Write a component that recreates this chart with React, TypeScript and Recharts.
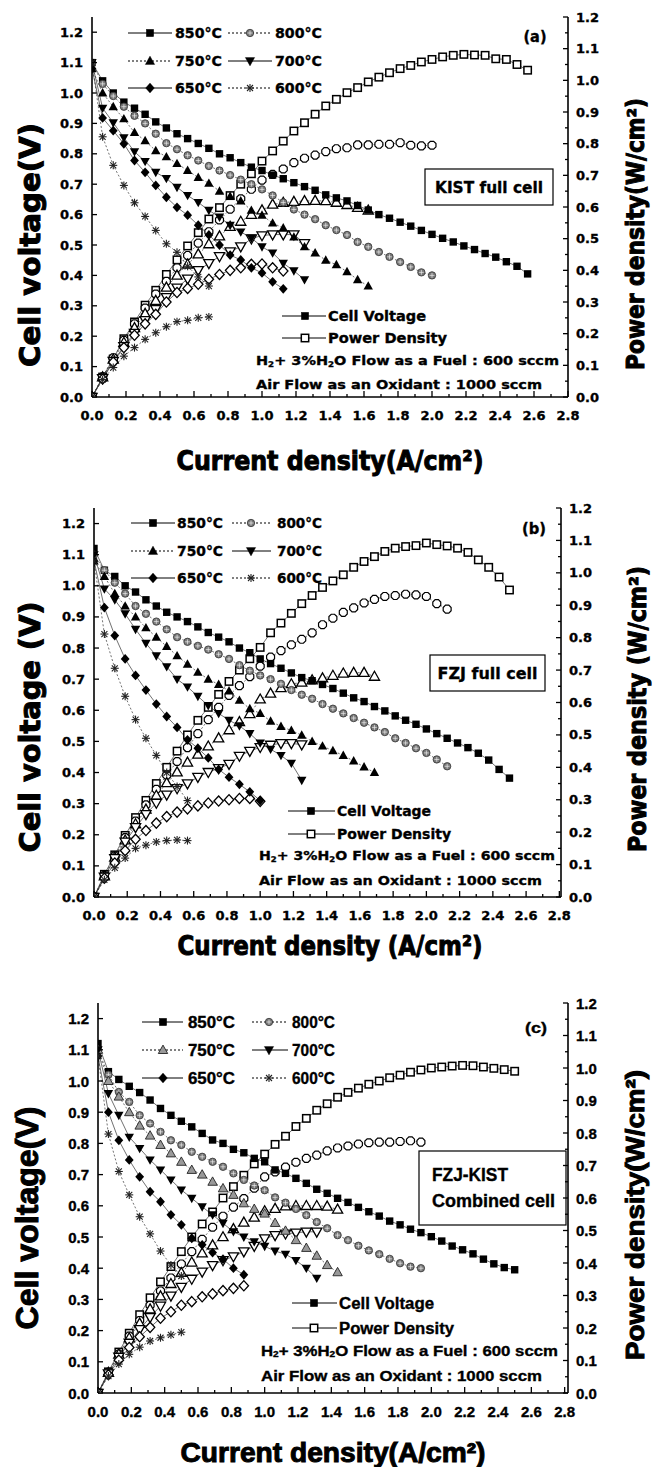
import React from 'react';
import { ComposedChart, Line, XAxis, YAxis } from 'recharts';

// ---------- categories / ticks ----------
const CURRENT = [0, 0.0625, 0.125, 0.1875, 0.25, 0.3125, 0.375, 0.4375, 0.5, 0.5625, 0.625, 0.6875, 0.75, 0.8125, 0.875, 0.9375, 1.0, 1.0625, 1.125, 1.1875, 1.25, 1.3125, 1.375, 1.4375, 1.5, 1.5625, 1.625, 1.6875, 1.75, 1.8125, 1.875, 1.9375, 2.0, 2.0625, 2.125, 2.1875, 2.25, 2.3125, 2.375, 2.4375, 2.5, 2.5625];
const X_TICKS = [0, 0.1, 0.2, 0.3, 0.4, 0.5, 0.6, 0.7, 0.8, 0.9, 1.0, 1.1, 1.2, 1.3, 1.4, 1.5, 1.6, 1.7, 1.8, 1.9, 2.0, 2.1, 2.2, 2.3, 2.4, 2.5, 2.6, 2.7, 2.8];
const V_TICKS = [0, 0.1, 0.2, 0.3, 0.4, 0.5, 0.6, 0.7, 0.8, 0.9, 1.0, 1.1, 1.2];
const P_TICKS = [0, 0.05, 0.1, 0.15, 0.2, 0.25, 0.3, 0.35, 0.4, 0.45, 0.5, 0.55, 0.6, 0.65, 0.7, 0.75, 0.8, 0.85, 0.9, 0.95, 1.0, 1.05, 1.1, 1.15, 1.2];
const TEMPS = ['850', '800', '750', '700', '650', '600'];

// ---------- (a) KIST full cell ----------
const vA850 = [1.10, 1.04, 1.00, 0.97, 0.95, 0.93, 0.905, 0.885, 0.866, 0.85, 0.834, 0.818, 0.80, 0.787, 0.771, 0.756, 0.745, 0.73, 0.718, 0.705, 0.692, 0.68, 0.665, 0.655, 0.645, 0.63, 0.615, 0.60, 0.588, 0.575, 0.562, 0.548, 0.535, 0.522, 0.51, 0.497, 0.485, 0.472, 0.46, 0.445, 0.43, 0.405];
const pA850 = [0, 0.063, 0.12, 0.184, 0.237, 0.29, 0.337, 0.387, 0.433, 0.477, 0.519, 0.562, 0.598, 0.636, 0.672, 0.705, 0.745, 0.777, 0.808, 0.84, 0.866, 0.893, 0.919, 0.94, 0.961, 0.977, 0.995, 1.01, 1.024, 1.037, 1.047, 1.058, 1.066, 1.074, 1.079, 1.082, 1.08, 1.079, 1.068, 1.066, 1.05, 1.032];
const vA800 = [1.10, 1.03, 0.99, 0.955, 0.925, 0.90, 0.866, 0.835, 0.815, 0.795, 0.778, 0.76, 0.745, 0.73, 0.715, 0.70, 0.683, 0.663, 0.64, 0.617, 0.60, 0.585, 0.565, 0.549, 0.533, 0.51, 0.494, 0.477, 0.461, 0.444, 0.428, 0.41, 0.40];
const pA800 = [0, 0.064, 0.124, 0.179, 0.231, 0.281, 0.325, 0.365, 0.408, 0.447, 0.486, 0.522, 0.559, 0.593, 0.626, 0.656, 0.685, 0.703, 0.72, 0.74, 0.754, 0.764, 0.775, 0.784, 0.787, 0.796, 0.796, 0.798, 0.798, 0.803, 0.795, 0.793, 0.795];
const vA750 = [1.08, 1.00, 0.955, 0.915, 0.87, 0.843, 0.81, 0.79, 0.768, 0.745, 0.722, 0.703, 0.677, 0.66, 0.645, 0.614, 0.598, 0.572, 0.556, 0.526, 0.494, 0.474, 0.45, 0.435, 0.412, 0.386, 0.365];
const pA750 = [0, 0.0625, 0.119, 0.172, 0.218, 0.263, 0.304, 0.346, 0.384, 0.419, 0.451, 0.483, 0.508, 0.538, 0.554, 0.576, 0.59, 0.608, 0.614, 0.617, 0.619, 0.62, 0.619, 0.614, 0.607, 0.598, 0.589];
const vA700 = [1.10, 0.95, 0.902, 0.853, 0.807, 0.775, 0.739, 0.719, 0.69, 0.663, 0.64, 0.614, 0.592, 0.565, 0.543, 0.523, 0.494, 0.474, 0.44, 0.415, 0.386];
const pA700 = [0, 0.059, 0.113, 0.16, 0.202, 0.242, 0.277, 0.315, 0.345, 0.373, 0.40, 0.422, 0.444, 0.459, 0.475, 0.50, 0.51, 0.513, 0.513, 0.513, 0.485];
const vA650 = [1.08, 0.918, 0.876, 0.833, 0.778, 0.739, 0.696, 0.657, 0.624, 0.598, 0.565, 0.533, 0.50, 0.467, 0.451, 0.425, 0.408, 0.379, 0.356];
const pA650 = [0, 0.057, 0.11, 0.156, 0.195, 0.231, 0.261, 0.30, 0.33, 0.343, 0.356, 0.372, 0.387, 0.40, 0.408, 0.419, 0.42, 0.408, 0.398];
const vA600 = [1.10, 0.856, 0.762, 0.696, 0.639, 0.594, 0.548, 0.504, 0.476, 0.43, 0.395, 0.365];
const pA600 = [0, 0.055, 0.093, 0.129, 0.156, 0.182, 0.203, 0.222, 0.238, 0.242, 0.25, 0.253];

// ---------- (b) FZJ full cell ----------
const vB850 = [1.12, 1.05, 1.03, 1.0, 0.98, 0.955, 0.935, 0.915, 0.90, 0.885, 0.868, 0.85, 0.835, 0.82, 0.80, 0.785, 0.765, 0.75, 0.735, 0.72, 0.705, 0.695, 0.683, 0.67, 0.655, 0.64, 0.628, 0.612, 0.598, 0.582, 0.568, 0.555, 0.54, 0.525, 0.51, 0.495, 0.48, 0.462, 0.44, 0.41, 0.382];
const pB850 = [0, 0.07, 0.13, 0.19, 0.245, 0.298, 0.35, 0.40, 0.45, 0.50, 0.545, 0.585, 0.625, 0.665, 0.70, 0.735, 0.77, 0.815, 0.845, 0.875, 0.905, 0.93, 0.955, 0.975, 0.994, 1.017, 1.035, 1.05, 1.066, 1.076, 1.081, 1.084, 1.092, 1.087, 1.083, 1.076, 1.063, 1.04, 1.017, 0.987, 0.947];
const vB800 = [1.10, 1.05, 1.01, 0.975, 0.935, 0.91, 0.885, 0.86, 0.835, 0.82, 0.807, 0.795, 0.78, 0.765, 0.745, 0.727, 0.712, 0.70, 0.685, 0.665, 0.65, 0.637, 0.62, 0.605, 0.59, 0.575, 0.56, 0.545, 0.53, 0.51, 0.495, 0.478, 0.463, 0.442, 0.42];
const pB800 = [0, 0.066, 0.126, 0.183, 0.234, 0.284, 0.332, 0.376, 0.418, 0.461, 0.504, 0.547, 0.585, 0.622, 0.652, 0.68, 0.712, 0.74, 0.76, 0.778, 0.795, 0.815, 0.84, 0.86, 0.878, 0.892, 0.907, 0.918, 0.927, 0.93, 0.934, 0.932, 0.927, 0.905, 0.888];
const vB750 = [1.08, 1.03, 0.975, 0.935, 0.90, 0.865, 0.835, 0.805, 0.775, 0.748, 0.722, 0.70, 0.683, 0.662, 0.632, 0.605, 0.59, 0.565, 0.548, 0.535, 0.52, 0.50, 0.485, 0.47, 0.455, 0.437, 0.418, 0.40];
const pB750 = [0, 0.064, 0.122, 0.175, 0.225, 0.27, 0.313, 0.352, 0.385, 0.415, 0.44, 0.465, 0.49, 0.515, 0.54, 0.565, 0.61, 0.628, 0.645, 0.657, 0.662, 0.669, 0.675, 0.683, 0.69, 0.692, 0.692, 0.68];
const vB700 = [1.10, 0.99, 0.955, 0.91, 0.86, 0.815, 0.775, 0.74, 0.70, 0.675, 0.645, 0.615, 0.59, 0.568, 0.55, 0.525, 0.495, 0.475, 0.455, 0.43, 0.375];
const pB700 = [0, 0.062, 0.119, 0.17, 0.215, 0.255, 0.29, 0.315, 0.335, 0.35, 0.37, 0.385, 0.397, 0.41, 0.435, 0.45, 0.462, 0.469, 0.474, 0.474, 0.47];
const vB650 = [1.08, 0.93, 0.84, 0.765, 0.712, 0.665, 0.62, 0.58, 0.545, 0.505, 0.478, 0.447, 0.41, 0.385, 0.362, 0.338, 0.31];
const pB650 = [0, 0.058, 0.105, 0.143, 0.178, 0.205, 0.228, 0.248, 0.262, 0.272, 0.281, 0.29, 0.296, 0.30, 0.304, 0.304, 0.295];
const vB600 = [1.08, 0.845, 0.735, 0.645, 0.57, 0.51, 0.455, 0.40, 0.355, 0.31];
const pB600 = [0, 0.053, 0.09, 0.12, 0.15, 0.16, 0.17, 0.174, 0.176, 0.174];

// ---------- (c) FZJ-KIST combined cell ----------
const vC850 = [1.12, 1.03, 1.005, 0.983, 0.963, 0.939, 0.912, 0.89, 0.871, 0.853, 0.832, 0.811, 0.80, 0.781, 0.77, 0.752, 0.741, 0.715, 0.704, 0.688, 0.672, 0.653, 0.64, 0.624, 0.611, 0.595, 0.581, 0.567, 0.551, 0.539, 0.525, 0.514, 0.501, 0.487, 0.471, 0.459, 0.446, 0.429, 0.414, 0.402, 0.395];
const pC850 = [0, 0.065, 0.126, 0.184, 0.241, 0.293, 0.342, 0.389, 0.435, 0.48, 0.52, 0.557, 0.60, 0.635, 0.67, 0.705, 0.735, 0.765, 0.79, 0.82, 0.845, 0.87, 0.89, 0.91, 0.925, 0.938, 0.95, 0.96, 0.97, 0.978, 0.987, 0.994, 1.0, 1.003, 1.006, 1.008, 1.007, 1.003, 0.999, 0.995, 0.99];
const vC800 = [1.10, 1.02, 0.965, 0.933, 0.89, 0.864, 0.837, 0.81, 0.795, 0.773, 0.757, 0.741, 0.725, 0.704, 0.683, 0.665, 0.65, 0.627, 0.61, 0.59, 0.57, 0.548, 0.528, 0.506, 0.49, 0.472, 0.457, 0.445, 0.43, 0.416, 0.405, 0.40];
const pC800 = [0, 0.064, 0.12, 0.175, 0.223, 0.27, 0.314, 0.354, 0.397, 0.435, 0.473, 0.51, 0.544, 0.572, 0.598, 0.63, 0.665, 0.68, 0.695, 0.71, 0.722, 0.732, 0.745, 0.754, 0.76, 0.766, 0.77, 0.772, 0.772, 0.774, 0.776, 0.772];
const vC750 = [1.10, 1.00, 0.95, 0.90, 0.857, 0.825, 0.795, 0.768, 0.741, 0.715, 0.70, 0.677, 0.656, 0.635, 0.608, 0.59, 0.575, 0.545, 0.52, 0.49, 0.465, 0.44, 0.41, 0.387];
const pC750 = [0, 0.0625, 0.119, 0.169, 0.214, 0.258, 0.298, 0.336, 0.37, 0.402, 0.43, 0.455, 0.48, 0.505, 0.525, 0.54, 0.56, 0.567, 0.575, 0.576, 0.576, 0.576, 0.574, 0.565];
const vC700 = [1.10, 0.96, 0.89, 0.82, 0.784, 0.747, 0.715, 0.683, 0.651, 0.624, 0.597, 0.571, 0.544, 0.517, 0.50, 0.485, 0.47, 0.455, 0.445, 0.425, 0.40, 0.368];
const pC700 = [0, 0.06, 0.111, 0.154, 0.196, 0.233, 0.268, 0.299, 0.326, 0.351, 0.373, 0.393, 0.408, 0.42, 0.435, 0.452, 0.475, 0.485, 0.49, 0.493, 0.496, 0.496];
const vC650 = [1.08, 0.90, 0.81, 0.747, 0.693, 0.645, 0.613, 0.571, 0.539, 0.496, 0.475, 0.45, 0.429, 0.40, 0.379];
const pC650 = [0, 0.056, 0.101, 0.14, 0.173, 0.202, 0.23, 0.25, 0.27, 0.281, 0.296, 0.305, 0.315, 0.322, 0.33];
const vC600 = [1.08, 0.83, 0.71, 0.635, 0.565, 0.51, 0.455, 0.41, 0.375];
const pC600 = [0, 0.052, 0.089, 0.119, 0.141, 0.16, 0.17, 0.179, 0.187];

// ---------- styling ----------
const DASH: Record<string, string | undefined> = { '850': undefined, '800': '2 2', '750': '2 2', '700': undefined, '650': undefined, '600': '2 2' };
const P_SHAPES: Record<string, string> = { '850': 'sqo', '800': 'hexo', '750': 'trio', '700': 'tridno', '650': 'diao', '600': 'star' };

function marker(shape: string, x: number, y: number) {
  switch (shape) {
    case 'sq':
      return <rect x={x - 3.7} y={y - 3.7} width={7.4} height={7.4} fill="#000" />;
    case 'sqo':
      return <rect x={x - 3.7} y={y - 3.7} width={7.4} height={7.4} fill="#fff" stroke="#000" strokeWidth={1.5} />;
    case 'tri':
      return <polygon points={`${x},${y - 4.9} ${x + 4.7},${y + 3.5} ${x - 4.7},${y + 3.5}`} fill="#000" />;
    case 'trig':
      return <polygon points={`${x},${y - 4.9} ${x + 4.7},${y + 3.5} ${x - 4.7},${y + 3.5}`} fill="#999" stroke="#222" strokeWidth={0.9} />;
    case 'trio':
      return <polygon points={`${x},${y - 5.3} ${x + 5.1},${y + 3.7} ${x - 5.1},${y + 3.7}`} fill="#fff" stroke="#000" strokeWidth={1.3} />;
    case 'tridn':
      return <polygon points={`${x - 4.7},${y - 3.5} ${x + 4.7},${y - 3.5} ${x},${y + 4.9}`} fill="#000" />;
    case 'tridno':
      return <polygon points={`${x - 5.1},${y - 3.7} ${x + 5.1},${y - 3.7} ${x},${y + 5.3}`} fill="#fff" stroke="#000" strokeWidth={1.3} />;
    case 'dia':
      return <polygon points={`${x},${y - 4.9} ${x + 4.4},${y} ${x},${y + 4.9} ${x - 4.4},${y}`} fill="#000" />;
    case 'diao':
      return <polygon points={`${x},${y - 5.1} ${x + 4.7},${y} ${x},${y + 5.1} ${x - 4.7},${y}`} fill="#fff" stroke="#000" strokeWidth={1.3} />;
    case 'star':
      return (
        <g stroke="#222" strokeWidth={1.1}>
          <line x1={x - 4} y1={y} x2={x + 4} y2={y} />
          <line x1={x} y1={y - 4} x2={x} y2={y + 4} />
          <line x1={x - 3} y1={y - 3} x2={x + 3} y2={y + 3} />
          <line x1={x - 3} y1={y + 3} x2={x + 3} y2={y - 3} />
        </g>
      );
    case 'hex':
      return (
        <g>
          <circle cx={x} cy={y} r={3.7} fill="#7a7a7a" stroke="#333" strokeWidth={0.8} />
          <line x1={x - 2.4} y1={y} x2={x + 2.4} y2={y} stroke="#eee" strokeWidth={0.7} />
          <line x1={x} y1={y - 2.4} x2={x} y2={y + 2.4} stroke="#eee" strokeWidth={0.7} />
        </g>
      );
    case 'hexo': {
      const r = 4.3;
      const pts: string[] = [];
      for (let k = 0; k < 8; k++) {
        const a = (Math.PI / 4) * k + Math.PI / 8;
        pts.push(`${x + r * Math.cos(a)},${y + r * Math.sin(a)}`);
      }
      return <polygon points={pts.join(' ')} fill="#fff" stroke="#000" strokeWidth={1.2} />;
    }
    default:
      return <g />;
  }
}

const dotFn = (shape: string) => (p: any) => {
  const k = `d${p.index}`;
  if (p.cx == null || p.cy == null || !isFinite(p.cx) || !isFinite(p.cy)) return <g key={k} />;
  return <g key={k}>{marker(shape, p.cx, p.cy)}</g>;
};

const series = (vals: number[]) => vals.map((y, i) => ({ x: CURRENT[i], y }));

// ---------- panels ----------
const PANELS: any[] = [
  {
    id: 'a', divTop: 0, plotTop: 17, plotBottom: 397, plotLeft: 92, plotRight: 568, xMax: 2.8,
    font: "'DejaVu Sans', sans-serif", tickSize: 13, legSize: 14, textSize: 14, condSize: 13,
    volt: { '850': vA850, '800': vA800, '750': vA750, '700': vA700, '650': vA650, '600': vA600 },
    power: { '850': pA850, '800': pA800, '750': pA750, '700': pA700, '650': pA650, '600': pA600 },
    vShapes: { '850': 'sq', '800': 'hex', '750': 'tri', '700': 'tridn', '650': 'dia', '600': 'star' },
    letter: { text: '(a)', x: 535, y: 37, len: 23 },
    box: { x: 425, y: 169, w: 128, h: 36, lines: [{ text: 'KIST full cell', x: 489, y: 187, len: 108, anchor: 'middle' }], size: 16 },
    leg: { rows: [33, 61, 88], cols: [{ x1: 128, x2: 172, mx: 150, tx: 175, tl: 47 }, { x1: 228, x2: 272, mx: 250, tx: 275, tl: 47 }] },
    cv: { x1: 282, x2: 326, mx: 305, tx: 328, y1: 316, y2: 338, l1: 98, l2: 119 },
    cond: { x: 256, y1: 360, y2: 384, l1: 303, l2: 286 },
    titles: {
      left: { x: 30, y: 245, len: 244, size: 28, text: 'Cell voltage(V)' },
      right: { x: 636, y: 234, len: 272, size: 24, text: 'Power density(W/cm²)' },
      bottom: { x: 330, y: 461, len: 307, size: 26, text: 'Current density(A/cm²)' },
    },
  },
  {
    id: 'b', divTop: 480, plotTop: 508, plotBottom: 897, plotLeft: 94, plotRight: 561, xMax: 2.81,
    font: "'DejaVu Sans', sans-serif", tickSize: 13, legSize: 14, textSize: 14, condSize: 13,
    volt: { '850': vB850, '800': vB800, '750': vB750, '700': vB700, '650': vB650, '600': vB600 },
    power: { '850': pB850, '800': pB800, '750': pB750, '700': pB700, '650': pB650, '600': pB600 },
    vShapes: { '850': 'sq', '800': 'hex', '750': 'tri', '700': 'tridn', '650': 'dia', '600': 'star' },
    letter: { text: '(b)', x: 534, y: 529, len: 24 },
    box: { x: 430, y: 655, w: 115, h: 36, lines: [{ text: 'FZJ full cell', x: 487.5, y: 673, len: 100, anchor: 'middle' }], size: 16 },
    leg: { rows: [523, 551, 578], cols: [{ x1: 131, x2: 175, mx: 153, tx: 177, tl: 46 }, { x1: 232, x2: 271, mx: 251, tx: 277, tl: 45 }] },
    cv: { x1: 288, x2: 335, mx: 311, tx: 337, y1: 811, y2: 834, l1: 94, l2: 114 },
    cond: { x: 259, y1: 855, y2: 880, l1: 296, l2: 283 },
    titles: {
      left: { x: 30, y: 727, len: 251, size: 28, text: 'Cell voltage (V)' },
      right: { x: 638, y: 709, len: 286, size: 24, text: 'Power density (W/cm²)' },
      bottom: { x: 330, y: 946, len: 305, size: 26, text: 'Current density (A/cm²)' },
    },
  },
  {
    id: 'c', divTop: 980, plotTop: 1003, plotBottom: 1393, plotLeft: 98, plotRight: 568, xMax: 2.82,
    font: "'Liberation Sans', Arial, sans-serif", tickSize: 15, legSize: 16, textSize: 16, condSize: 15,
    volt: { '850': vC850, '800': vC800, '750': vC750, '700': vC700, '650': vC650, '600': vC600 },
    power: { '850': pC850, '800': pC800, '750': pC750, '700': pC700, '650': pC650, '600': pC600 },
    vShapes: { '850': 'sq', '800': 'hex', '750': 'trig', '700': 'tridn', '650': 'dia', '600': 'star' },
    letter: { text: '(c)', x: 536, y: 1027, len: 22 },
    box: {
      x: 419, y: 1151, w: 147, h: 74, size: 18,
      lines: [
        { text: 'FZJ-KIST', x: 432, y: 1175, len: 76, anchor: 'start' },
        { text: 'Combined cell', x: 432, y: 1201, len: 123, anchor: 'start' },
      ],
    },
    leg: { rows: [1022, 1050, 1078], cols: [{ x1: 142, x2: 183, mx: 163, tx: 188, tl: 47 }, { x1: 252, x2: 288, mx: 269, tx: 292, tl: 43 }] },
    cv: { x1: 292, x2: 337, mx: 314, tx: 339, y1: 1303, y2: 1328, l1: 95, l2: 115 },
    cond: { x: 261, y1: 1350, y2: 1375, l1: 297, l2: 281 },
    titles: {
      left: { x: 27, y: 1218, len: 223, size: 32, text: 'Cell voltage(V)' },
      right: { x: 635, y: 1215, len: 290, size: 26, text: 'Power density(W/cm²)' },
      bottom: { x: 333, y: 1452, len: 305, size: 28, text: 'Current density(A/cm²)' },
    },
  },
];

function Panel({ c }: { c: any }) {
  const chartH = c.plotBottom - c.divTop + 30;
  const txt = { fontFamily: c.font, fontWeight: 'bold' as const, fontSize: c.tickSize, fill: '#000', stroke: '#000', strokeWidth: 0.35 };
  const XTick = (p: any) => {
    const v = p.payload.value;
    const major = Math.round(v * 10) % 2 === 0;
    return (
      <g>
        <line x1={p.x} x2={p.x} y1={p.y} y2={p.y - (major ? 6 : 3)} stroke="#000" strokeWidth={1.3} />
        {major && (
          <text x={p.x} y={p.y + 18} textAnchor="middle" dominantBaseline="central" {...txt}>
            {v.toFixed(1)}
          </text>
        )}
      </g>
    );
  };
  const LTick = (p: any) => {
    const v = p.payload.value;
    return (
      <g>
        <line x1={p.x} x2={p.x + 5} y1={p.y} y2={p.y} stroke="#000" strokeWidth={1.3} />
        <text x={p.x - 9} y={p.y} textAnchor="end" dominantBaseline="central" {...txt}>
          {v.toFixed(1)}
        </text>
      </g>
    );
  };
  const RTick = (p: any) => {
    const v = p.payload.value;
    const major = Math.round(v * 100) % 10 === 0;
    return (
      <g>
        <line x1={p.x} x2={p.x - (major ? 5 : 3)} y1={p.y} y2={p.y} stroke="#000" strokeWidth={1.3} />
        {major && (
          <text x={p.x + 8} y={p.y} textAnchor="start" dominantBaseline="central" {...txt}>
            {v.toFixed(1)}
          </text>
        )}
      </g>
    );
  };
  return (
    <div style={{ position: 'absolute', left: 0, top: c.divTop, width: 662, height: chartH }}>
      <ComposedChart width={662} height={chartH} margin={{ top: c.plotTop - c.divTop, right: 0, bottom: 0, left: 0 }}>
        <XAxis xAxisId="b" dataKey="x" type="number" domain={[0, c.xMax]} ticks={X_TICKS} interval={0} tick={XTick} tickSize={0} tickMargin={0} tickLine={false} height={30} axisLine={{ stroke: '#000', strokeWidth: 1.6 }} allowDataOverflow />
        <XAxis xAxisId="t" orientation="top" type="number" domain={[0, c.xMax]} tick={false} tickLine={false} height={0} axisLine={{ stroke: '#000', strokeWidth: 1.6 }} allowDataOverflow />
        <YAxis yAxisId="v" type="number" domain={[0, 1.25]} ticks={V_TICKS} interval={0} tick={LTick} tickSize={0} tickMargin={0} tickLine={false} width={c.plotLeft} axisLine={{ stroke: '#000', strokeWidth: 1.6 }} allowDataOverflow />
        <YAxis yAxisId="p" orientation="right" type="number" domain={[0, 1.2]} ticks={P_TICKS} interval={0} tick={RTick} tickSize={0} tickMargin={0} tickLine={false} width={662 - c.plotRight} axisLine={{ stroke: '#000', strokeWidth: 1.6 }} allowDataOverflow />
        {TEMPS.map((t) => (
          <Line key={'p' + t} xAxisId="b" yAxisId="p" data={series(c.power[t])} dataKey="y" type="linear" stroke="#333" strokeWidth={0.7} strokeDasharray={DASH[t]} dot={dotFn(P_SHAPES[t])} activeDot={false} isAnimationActive={false} legendType="none" />
        ))}
        {TEMPS.map((t) => (
          <Line key={'v' + t} xAxisId="b" yAxisId="v" data={series(c.volt[t])} dataKey="y" type="linear" stroke="#333" strokeWidth={0.7} strokeDasharray={DASH[t]} dot={dotFn(c.vShapes[t])} activeDot={false} isAnimationActive={false} legendType="none" />
        ))}
      </ComposedChart>
    </div>
  );
}

function Annotations({ c }: { c: any }) {
  const T = c.titles;
  const sub = (s: number) => ({ fontSize: s * 0.6 });
  return (
    <g fontFamily={c.font} fontWeight="bold" fill="#000" stroke="#000" strokeWidth={0.35}>
      <g strokeWidth={1}>
        <text transform={`translate(${T.left.x},${T.left.y}) rotate(-90)`} textAnchor="middle" dominantBaseline="central" fontSize={T.left.size} textLength={T.left.len} lengthAdjust="spacingAndGlyphs">{T.left.text}</text>
        <text transform={`translate(${T.right.x},${T.right.y}) rotate(-90)`} textAnchor="middle" dominantBaseline="central" fontSize={T.right.size} textLength={T.right.len} lengthAdjust="spacingAndGlyphs">{T.right.text}</text>
        <text x={T.bottom.x} y={T.bottom.y} textAnchor="middle" dominantBaseline="central" fontSize={T.bottom.size} textLength={T.bottom.len} lengthAdjust="spacingAndGlyphs">{T.bottom.text}</text>
      </g>

      <text x={c.letter.x} y={c.letter.y} textAnchor="middle" dominantBaseline="central" fontSize={15} textLength={c.letter.len} lengthAdjust="spacingAndGlyphs">{c.letter.text}</text>

      <rect x={c.box.x} y={c.box.y} width={c.box.w} height={c.box.h} fill="none" stroke="#000" strokeWidth={1.2} />
      {c.box.lines.map((l: any, i: number) => (
        <text key={i} x={l.x} y={l.y} textAnchor={l.anchor} dominantBaseline="central" fontSize={c.box.size} textLength={l.len} lengthAdjust="spacingAndGlyphs">{l.text}</text>
      ))}

      {TEMPS.map((t, i) => {
        const row = Math.floor(i / 2);
        const col = c.leg.cols[i % 2];
        const y = c.leg.rows[row];
        return (
          <g key={t}>
            <line x1={col.x1} x2={col.x2} y1={y} y2={y} stroke="#000" strokeWidth={1} strokeDasharray={DASH[t]} />
            {marker(c.vShapes[t], col.mx, y)}
            <text x={col.tx} y={y} dominantBaseline="central" fontSize={c.legSize} textLength={col.tl} lengthAdjust="spacingAndGlyphs">{t}°C</text>
          </g>
        );
      })}

      <line x1={c.cv.x1} x2={c.cv.x2} y1={c.cv.y1} y2={c.cv.y1} stroke="#000" strokeWidth={1} />
      {marker('sq', c.cv.mx, c.cv.y1)}
      <text x={c.cv.tx} y={c.cv.y1} dominantBaseline="central" fontSize={c.textSize} textLength={c.cv.l1} lengthAdjust="spacingAndGlyphs">Cell Voltage</text>
      <line x1={c.cv.x1} x2={c.cv.x2} y1={c.cv.y2} y2={c.cv.y2} stroke="#000" strokeWidth={1} />
      {marker('sqo', c.cv.mx, c.cv.y2)}
      <text x={c.cv.tx} y={c.cv.y2} dominantBaseline="central" fontSize={c.textSize} textLength={c.cv.l2} lengthAdjust="spacingAndGlyphs">Power Density</text>

      <text x={c.cond.x} y={c.cond.y1} dominantBaseline="central" fontSize={c.condSize} textLength={c.cond.l1} lengthAdjust="spacingAndGlyphs">
        H<tspan {...sub(c.condSize)} dy={4}>2</tspan><tspan dy={-4}>+ 3%H</tspan><tspan {...sub(c.condSize)} dy={4}>2</tspan><tspan dy={-4}>O Flow as a Fuel : 600 sccm</tspan>
      </text>
      <text x={c.cond.x} y={c.cond.y2} dominantBaseline="central" fontSize={c.condSize} textLength={c.cond.l2} lengthAdjust="spacingAndGlyphs">Air Flow as an Oxidant : 1000 sccm</text>
    </g>
  );
}

export default function App() {
  return (
    <div style={{ position: 'absolute', left: 0, top: 0, width: 662, height: 1467, background: '#fff', overflow: 'hidden' }}>
      {PANELS.map((c) => (
        <Panel key={c.id} c={c} />
      ))}
      <svg width={662} height={1467} style={{ position: 'absolute', left: 0, top: 0, pointerEvents: 'none' }}>
        {PANELS.map((c) => (
          <Annotations key={c.id} c={c} />
        ))}
      </svg>
    </div>
  );
}
